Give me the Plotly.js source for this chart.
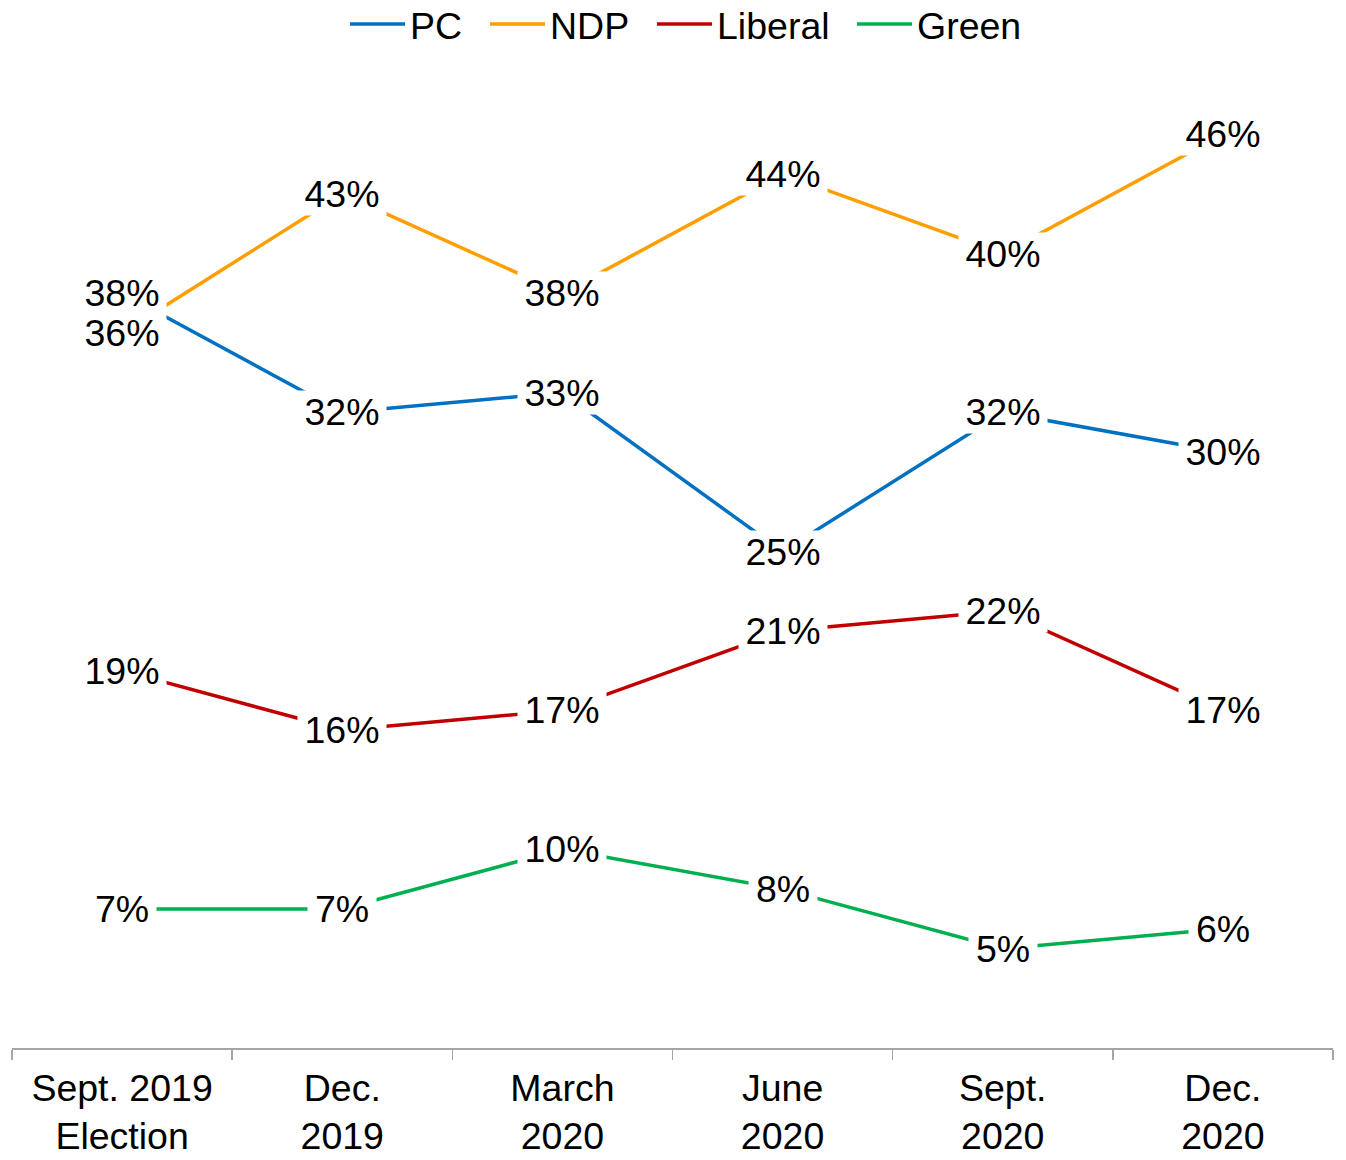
<!DOCTYPE html>
<html>
<head>
<meta charset="utf-8">
<script src="https://cdn.plot.ly/plotly-3.0.1.min.js"></script>
<style>
  html, body { margin: 0; padding: 0; background: #ffffff; }
  #chart { width: 1346px; height: 1160px; }
</style>
</head>
<body>
<div id="chart"></div>
<script>
const categories = ["Sept. 2019<br>Election", "Dec.<br>2019", "March<br>2020", "June<br>2020", "Sept.<br>2020", "Dec.<br>2020"];
const pc      = [38, 32, 33, 25, 32, 30];
const ndp     = [36, 43, 38, 44, 40, 46];
const liberal = [19, 16, 17, 21, 22, 17];
const green   = [7, 7, 10, 8, 5, 6];

const seriesNames  = ["PC", "NDP", "Liberal", "Green"];
const seriesValues = [pc, ndp, liberal, green];
const seriesColors = ["#0070C0", "#FF9E00", "#C00000", "#00B050"];

const FONT = "Liberation Sans, Arial, sans-serif";
const FS = 37.5;

const legendIds = ["legend", "legend2", "legend3", "legend4"];
const legendLeftPx = [345, 485, 652, 852];

const traces = seriesNames.map((name, i) => ({
  type: "scatter",
  mode: "lines",
  name: name,
  legend: legendIds[i],
  x: categories,
  y: seriesValues[i],
  line: { color: seriesColors[i], width: 3.5 },
  hoverinfo: "skip"
}));

const annotations = [];
seriesValues.forEach((vals) => {
  vals.forEach((v, j) => {
    const label = v + "%";
    annotations.push({
      x: categories[j], y: v, xref: "x", yref: "y",
      text: label, showarrow: false,
      font: { family: FONT, size: FS, color: "#000000" },
      bgcolor: "#ffffff", borderpad: 0,
      width: label.length >= 3 ? 88 : 68,
      xanchor: "center", yanchor: "middle"
    });
  });
});

const layout = {
  width: 1346, height: 1160,
  margin: { l: 12, r: 13, t: 48, b: 112 },
  paper_bgcolor: "#ffffff", plot_bgcolor: "#ffffff",
  font: { family: FONT, size: FS, color: "#000000" },
  showlegend: true,
  xaxis: {
    type: "category", range: [-0.5, 5.5], fixedrange: true,
    showgrid: false, zeroline: false,
    showline: true, linecolor: "#A6A6A6", linewidth: 1.5,
    ticks: "outside", tickson: "boundaries", ticklen: 10, tickcolor: "#A6A6A6", tickwidth: 1.5,
    ticklabelstandoff: 6,
    tickfont: { family: FONT, size: FS, color: "#000000" }
  },
  yaxis: {
    range: [0, 50], fixedrange: true,
    showgrid: false, zeroline: false, showline: false, showticklabels: false, ticks: ""
  },
  annotations: annotations
};

legendIds.forEach((id, i) => {
  layout[id] = {
    orientation: "h",
    xref: "container", yref: "container",
    x: legendLeftPx[i] / 1346, xanchor: "left",
    y: 1 - 24 / 1160, yanchor: "middle",
    font: { family: FONT, size: FS, color: "#000000" },
    itemwidth: 55, bgcolor: "rgba(0,0,0,0)", borderwidth: 0,
    itemclick: false, itemdoubleclick: false
  };
});

Plotly.newPlot("chart", traces, layout, { displayModeBar: false, staticPlot: true });
</script>
</body>
</html>
